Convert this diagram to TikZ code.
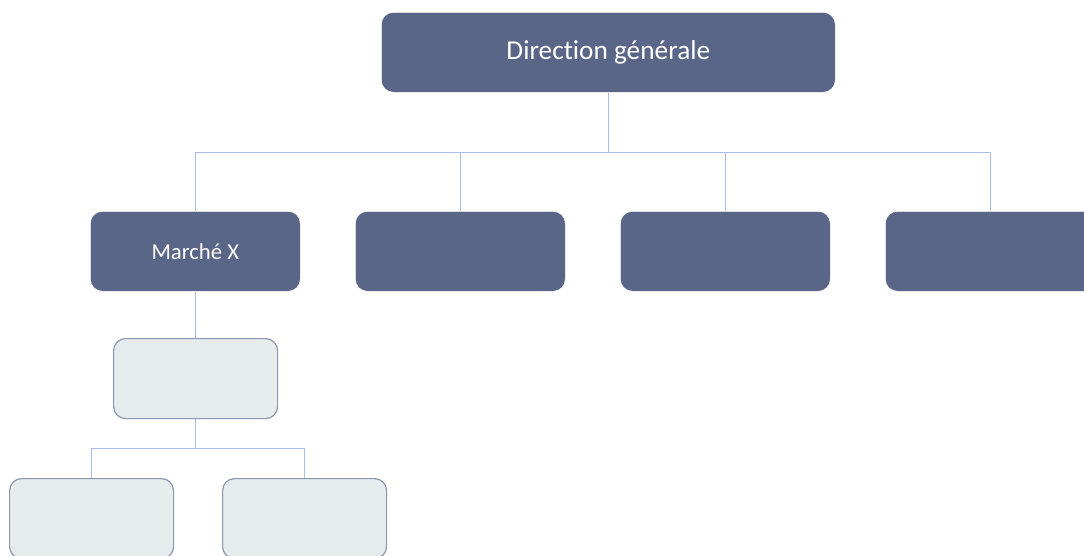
\documentclass[tikz,border=0pt]{standalone}
\usepackage{fontspec}
\setmainfont[Ligatures=NoCommon]{Carlito}
\definecolor{darkbox}{HTML}{5A6687}
\definecolor{lightbox}{HTML}{E6EBEB}
\definecolor{lightedge}{HTML}{8C96AE}
\definecolor{conn}{HTML}{A8BEE6}
\begin{document}
\begin{tikzpicture}[x=1pt,y=-1pt,
  darknode/.style={draw=white, line width=0.6pt, fill=darkbox, rounded corners=12pt, text=white, inner sep=0pt, anchor=north west},
  lightnode/.style={draw=lightedge, line width=1.2pt, fill=lightbox, rounded corners=12pt, inner sep=0pt, anchor=north west},
  link/.style={draw=conn, line width=1pt}]
\useasboundingbox (0,0) rectangle (1084,555);
\clip (0,0) rectangle (1084,555);
\node[darknode, minimum width=454pt, minimum height=80pt, font=\fontsize{27.3}{30}\selectfont] (top) at (381,12) {Direction générale};
\node[darknode, minimum width=210pt, minimum height=80pt, font=\fontsize{22.7}{25}\selectfont] (m1) at (90,211) {Marché X};
\node[darknode, minimum width=210pt, minimum height=80pt] (m2) at (355,211) {};
\node[darknode, minimum width=210pt, minimum height=80pt] (m3) at (620,211) {};
\node[darknode, minimum width=210pt, minimum height=80pt] (m4) at (885,211) {};
\node[lightnode, minimum width=164pt, minimum height=80pt] (s1) at (113,338) {};
\node[lightnode, minimum width=164pt, minimum height=80pt] (t1) at (9,478) {};
\node[lightnode, minimum width=164pt, minimum height=80pt] (t2) at (222,478) {};
\coordinate (bar1) at (0,152);
\coordinate (bar2) at (0,448);
\draw[link] (top.south) -- (top.south |- bar1) -- (m1.north |- bar1) -- (m1.north);
\draw[link] (top.south |- bar1) -- (m4.north |- bar1) -- (m4.north);
\draw[link] (m2.north |- bar1) -- (m2.north);
\draw[link] (m3.north |- bar1) -- (m3.north);
\draw[link] (m1.south) -- (s1.north);
\draw[link] (s1.south) -- (s1.south |- bar2);
\draw[link] (t1.north) -- (t1.north |- bar2) -- (t2.north |- bar2) -- (t2.north);
\end{tikzpicture}
\end{document}
